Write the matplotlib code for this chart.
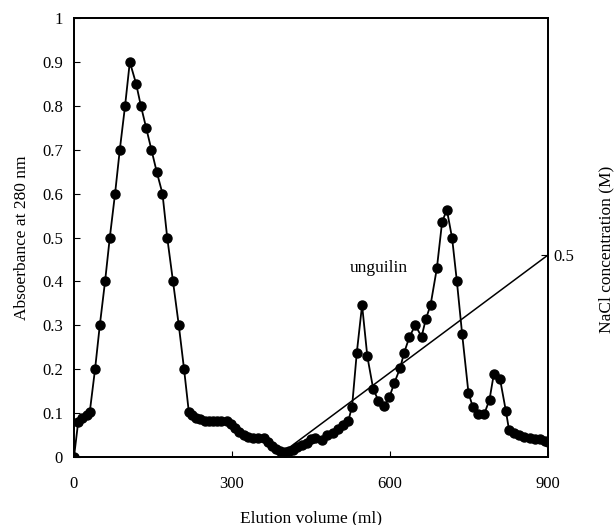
import matplotlib
matplotlib.use("Agg")
import matplotlib.pyplot as plt

plt.rcParams['font.family'] = ['Liberation Serif', 'DejaVu Serif']

# elution volume (ml) and absorbance at 280 nm
volume = [0, 8, 16, 24, 30, 40, 49, 59, 68, 78, 87, 97, 106, 118, 127, 137, 147,
          157, 168, 177, 188, 199, 209, 218, 225, 232, 240, 248, 256, 264, 272,
          280, 290, 298, 306, 314, 322, 330, 340, 350, 360, 368, 376, 384, 392,
          400, 408, 416, 424, 432, 442, 450, 458, 470, 480, 492, 502, 511, 521,
          528, 537, 547, 557, 568, 578, 589, 599, 608, 619, 627, 637, 648, 660,
          668, 677, 689, 699, 708, 718, 727, 737, 749, 757, 768, 779, 789, 797,
          809, 820, 826, 835, 845, 855, 865, 875, 885, 895, 900]
absorbance = [0, 0.08, 0.088, 0.095, 0.103, 0.20, 0.30, 0.40, 0.50, 0.60, 0.70,
              0.80, 0.90, 0.85, 0.80, 0.75, 0.70, 0.65, 0.60, 0.50, 0.40, 0.30,
              0.20, 0.103, 0.095, 0.09, 0.086, 0.083, 0.082, 0.082, 0.082, 0.082,
              0.082, 0.075, 0.066, 0.058, 0.05, 0.045, 0.043, 0.043, 0.043, 0.035,
              0.026, 0.018, 0.014, 0.012, 0.013, 0.017, 0.022, 0.027, 0.031, 0.04,
              0.043, 0.039, 0.05, 0.054, 0.063, 0.073, 0.083, 0.115, 0.238, 0.346,
              0.229, 0.156, 0.128, 0.116, 0.137, 0.168, 0.202, 0.238, 0.274, 0.30,
              0.274, 0.314, 0.346, 0.43, 0.536, 0.563, 0.498, 0.40, 0.28, 0.146,
              0.115, 0.098, 0.098, 0.131, 0.188, 0.177, 0.105, 0.062, 0.055, 0.05,
              0.046, 0.044, 0.042, 0.04, 0.037, 0.035]

# NaCl gradient
grad_volume = [400, 900]
grad_nacl = [0, 0.5]

fig = plt.figure(figsize=(6.14, 5.25), dpi=100)
ax = fig.add_axes([0.1205, 0.1295, 0.772, 0.8362])

ax.plot(volume, absorbance, color='black', lw=1.3, marker='o', markersize=6.5)
ax.set_xlim(0, 900)
ax.set_ylim(0, 1)
ax.set_xticks([0, 300, 600, 900])
ax.set_yticks([0, 0.1, 0.2, 0.3, 0.4, 0.5, 0.6, 0.7, 0.8, 0.9, 1])
ax.set_yticklabels(['0', '0.1', '0.2', '0.3', '0.4', '0.5', '0.6', '0.7', '0.8', '0.9', '1'])
ax.tick_params(direction='in', length=4, labelsize=12, pad=8)
ax.tick_params(axis='x', pad=14)
for s in ax.spines.values():
    s.set_linewidth(1.3)
ax.set_xlabel('Elution volume (ml)', fontsize=12.5, labelpad=13)
ax.set_ylabel('Absoerbance at 280 nm', fontsize=12.5, labelpad=9)
ax.text(524, 0.43, 'unguilin', fontsize=12.5, va='center')

ax2 = ax.twinx()
ax2.plot(grad_volume, grad_nacl, color='black', lw=1.1)
ax2.set_ylim(-0.0153, 1.1046)
ax2.set_yticks([0.5])
ax2.set_yticklabels(['0.5'])
ax2.tick_params(direction='in', length=5, labelsize=12, pad=4)
for s in ax2.spines.values():
    s.set_linewidth(1.3)
fig.text(0.988, 0.525, 'NaCl concentration (M)', rotation=90, fontsize=12.5,
         ha='center', va='center')

fig.savefig('out.png', dpi=100)
